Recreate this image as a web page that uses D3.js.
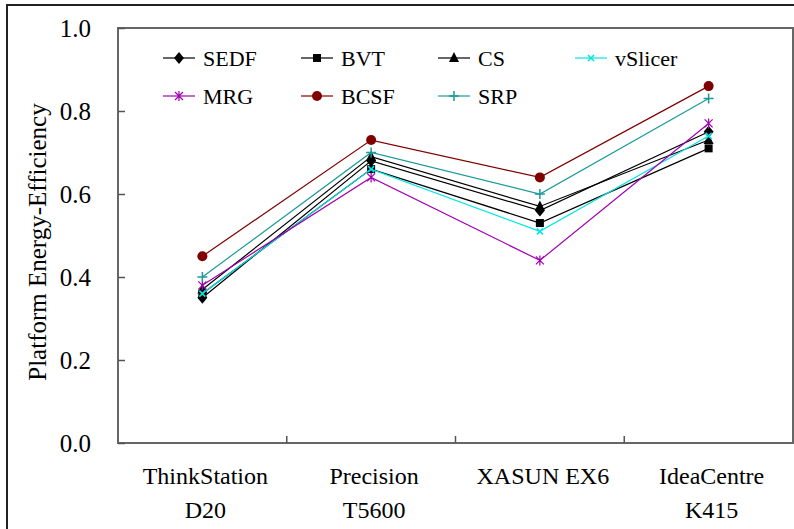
<!DOCTYPE html>
<html>
<head>
<meta charset="utf-8">
<script src="https://cdn.jsdelivr.net/npm/d3@7"></script>
<style>
  body { margin: 0; background: #fff; }
  svg text { font-family: "Liberation Serif", "Times New Roman", Times, "DejaVu Serif", serif !important; fill: #000; }
</style>
</head>
<body>
<div id="chart"></div>
<script>
// platforms on the x axis (two-line labels)
var platforms = [["ThinkStation", "D20"], ["Precision", "T5600"], ["XASUN EX6"], ["IdeaCentre", "K415"]];

// efficiency values per scheduler
var SEDF    = [0.35, 0.68, 0.56, 0.75];
var BVT     = [0.36, 0.66, 0.53, 0.71];
var CS      = [0.37, 0.69, 0.57, 0.73];
var vSlicer = [0.36, 0.66, 0.51, 0.74];
var MRG     = [0.38, 0.64, 0.44, 0.77];
var BCSF    = [0.45, 0.73, 0.64, 0.86];
var SRP     = [0.40, 0.70, 0.60, 0.83];

var yTicks = [0, 0.2, 0.4, 0.6, 0.8, 1.0];

var series = [
  {name: "SEDF",    values: SEDF,    color: "#000000", marker: "diamond"},
  {name: "BVT",     values: BVT,     color: "#000000", marker: "square"},
  {name: "CS",      values: CS,      color: "#000000", marker: "triangle"},
  {name: "vSlicer", values: vSlicer, color: "#00e5e5", marker: "x"},
  {name: "MRG",     values: MRG,     color: "#a000b0", marker: "star"},
  {name: "BCSF",    values: BCSF,    color: "#800000", marker: "circle"},
  {name: "SRP",     values: SRP,     color: "#1a9a9a", marker: "plus"}
];

var width = 794, height = 529,
    margin = {top: 28, right: 1, bottom: 85, left: 118};

var serif = "'Liberation Serif', 'Times New Roman', Times, 'DejaVu Serif', serif";

var svg = d3.select("#chart").append("svg")
  .attr("width", width)
  .attr("height", height)
  .attr("font-family", serif);

// outer frame
svg.append("rect")
  .attr("x", 7).attr("y", 5)
  .attr("width", width + 10).attr("height", height + 10)
  .style("fill", "none").style("stroke", "#222").style("stroke-width", 2);

var x = d3.scaleBand()
  .domain(d3.range(platforms.length))
  .range([margin.left, width - margin.right]);

var y = d3.scaleLinear()
  .domain([0, 1])
  .range([height - margin.bottom - 1, margin.top]);

// plot frame
svg.append("rect")
  .attr("x", margin.left).attr("y", margin.top)
  .attr("width", width - margin.right - margin.left)
  .attr("height", y(0) - margin.top)
  .style("fill", "none").style("stroke", "#666").style("stroke-width", 2);

// y axis, ticks pointing inward
var yAxis = svg.append("g")
  .attr("transform", "translate(" + margin.left + ",0)")
  .call(d3.axisLeft(y).tickValues(yTicks).tickSize(-7).tickPadding(27).tickFormat(d3.format(".1f")));
yAxis.attr("font-family", serif);
yAxis.select(".domain").remove();
yAxis.selectAll("line").style("stroke", "#555").style("stroke-width", 1.5);
yAxis.selectAll("text")
  .style("font-family", serif)
  .style("font-size", "25px")
  .attr("dy", "0.35em");

// x ticks between categories, pointing up
svg.append("g").selectAll("line")
  .data(d3.range(1, platforms.length))
  .enter().append("line")
  .attr("x1", function(i) { return x(i); })
  .attr("x2", function(i) { return x(i); })
  .attr("y1", y(0)).attr("y2", y(0) - 7)
  .style("stroke", "#555").style("stroke-width", 1.5);

// x labels
svg.append("g").selectAll("text")
  .data(platforms)
  .enter().append("text")
  .attr("x", function(d, i) { return x(i) + x.bandwidth() / 2 + 3; })
  .attr("y", 484)
  .attr("text-anchor", "middle")
  .style("font-family", serif)
  .style("font-size", "24px")
  .each(function(d) {
    var t = d3.select(this);
    d.forEach(function(line, k) {
      t.append("tspan")
        .attr("x", t.attr("x"))
        .attr("dy", k === 0 ? 0 : 34)
        .text(line);
    });
  });

// y axis title
svg.append("text")
  .attr("transform", "translate(46,242) rotate(-90)")
  .attr("text-anchor", "middle")
  .style("font-family", serif)
  .style("font-size", "25px")
  .text("Platform Energy-Efficiency");

function drawMarker(g, type, color) {
  if (type === "diamond") {
    g.append("path").attr("d", "M0,-6L5,0L0,6L-5,0Z").style("fill", color);
  } else if (type === "square") {
    g.append("rect").attr("x", -4).attr("y", -4).attr("width", 8).attr("height", 8).style("fill", color);
  } else if (type === "triangle") {
    g.append("path").attr("d", "M0,-6L5,4L-5,4Z").style("fill", color);
  } else if (type === "circle") {
    g.append("circle").attr("r", 5).style("fill", color);
  } else if (type === "plus") {
    g.append("path").attr("d", "M-5,0H5M0,-5V5").style("stroke", color).style("stroke-width", 1.5);
  } else if (type === "x") {
    g.append("path").attr("d", "M-3,-3L3,3M3,-3L-3,3").style("stroke", color).style("stroke-width", 1.5);
  } else if (type === "star") {
    g.append("path").attr("d", "M-4,-4L4,4M4,-4L-4,4M0,-5V5").style("stroke", color).style("stroke-width", 1.2);
  }
}

var line = d3.line()
  .x(function(d, i) { return x(i) + x.bandwidth() / 2; })
  .y(function(d) { return y(d); });

series.forEach(function(s) {
  svg.append("path")
    .datum(s.values)
    .attr("d", line)
    .style("fill", "none")
    .style("stroke", s.color)
    .style("stroke-width", 1.2);
  s.values.forEach(function(v, i) {
    var g = svg.append("g")
      .attr("transform", "translate(" + (x(i) + x.bandwidth() / 2) + "," + y(v) + ")");
    drawMarker(g, s.marker, s.color);
  });
});

// legend: 4 columns, 2 rows
var legendX = [163, 301, 438, 575], legendY = [58, 96];
series.forEach(function(s, i) {
  var col = i < 4 ? i : i - 4, row = i < 4 ? 0 : 1;
  var g = svg.append("g")
    .attr("transform", "translate(" + legendX[col] + "," + legendY[row] + ")");
  g.append("line").attr("x1", 0).attr("x2", 32)
    .style("stroke", s.color).style("stroke-width", 1.2);
  var m = g.append("g").attr("transform", "translate(16,0)");
  drawMarker(m, s.marker, s.color);
  g.append("text")
    .attr("x", 40).attr("dy", "0.35em")
    .style("font-family", serif)
    .style("font-size", "22px")
    .text(s.name);
});
</script>
</body>
</html>
